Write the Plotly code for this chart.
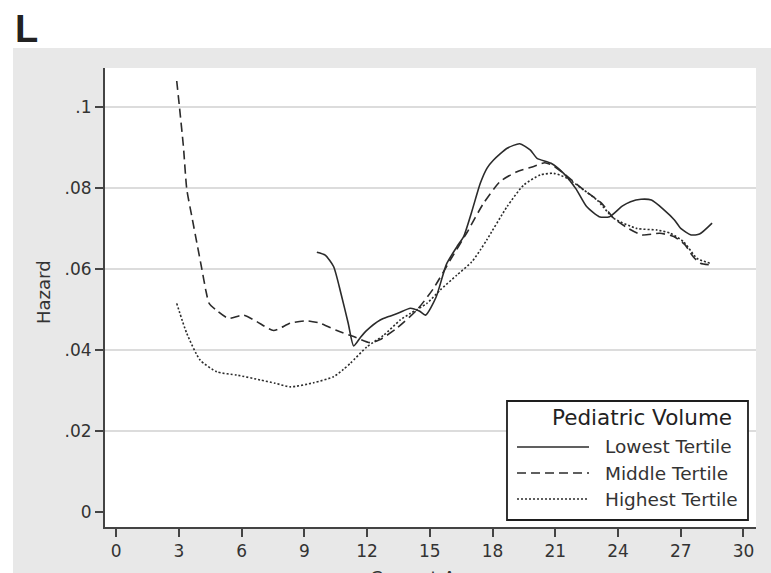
import plotly.graph_objects as go

# Smoothed hazard by current age, one curve per pediatric-volume tertile
lowest_age = [9.6, 10.0, 10.4, 10.75, 11.1, 11.36, 11.7, 12.0, 12.63, 13.0, 13.5, 14.07,
              14.5, 14.8, 15.3, 15.8, 16.3, 16.62, 17.0, 17.42, 17.74, 18.05, 18.7, 19.3,
              19.8, 20.13, 20.8, 21.4, 22.0, 22.5, 23.1, 23.6, 24.2, 24.6, 25.1, 25.6,
              26.2, 26.7, 27.0, 27.5, 27.9, 28.5]
lowest_hazard = [0.0641, 0.0634, 0.0606, 0.0540, 0.0466, 0.0410, 0.0432, 0.0449, 0.0474, 0.0482,
                 0.0491, 0.0503, 0.0496, 0.0486, 0.0530, 0.0612, 0.0655, 0.0680, 0.0740, 0.0812,
                 0.0849, 0.0869, 0.0898, 0.0909, 0.0894, 0.0873, 0.0861, 0.0836, 0.0797, 0.0754,
                 0.0729, 0.0729, 0.0755, 0.0766, 0.0772, 0.0770, 0.0746, 0.0721, 0.0700, 0.0684,
                 0.0686, 0.0713]

middle_age = [2.9, 3.03, 3.22, 3.38, 3.62, 3.86, 4.1, 4.3, 4.45, 4.82, 5.37, 6.09, 6.73,
              7.53, 8.33, 9.12, 9.76, 10.56, 11.36, 12.15, 12.6, 13.43, 14.39, 15.18, 15.98,
              16.78, 17.57, 18.37, 19.17, 19.97, 20.5, 20.9, 21.4, 22.36, 23.2, 23.8, 24.5,
              25.15, 26.0, 26.67, 27.2, 27.6, 27.94, 28.4]
middle_hazard = [0.1064, 0.1000, 0.0902, 0.0797, 0.0730, 0.0665, 0.0600, 0.0545, 0.0515, 0.0497,
                 0.0478, 0.0486, 0.0470, 0.0448, 0.0466, 0.0472, 0.0466, 0.0448, 0.0433, 0.0418,
                 0.0425, 0.0454, 0.0499, 0.0552, 0.0622, 0.0690, 0.0762, 0.0816, 0.0840, 0.0853,
                 0.0862, 0.0855, 0.0836, 0.0795, 0.0763, 0.0725, 0.0700, 0.0684, 0.0688, 0.0680,
                 0.0660, 0.0630, 0.0614, 0.0610]

highest_age = [2.9, 3.38, 4.02, 4.82, 5.78, 6.89, 7.6, 8.33, 9.44, 10.4, 10.87, 11.2, 12.0,
               12.79, 13.59, 14.07, 14.86, 15.5, 16.3, 17.0, 17.42, 17.73, 18.7, 19.49, 20.29,
               20.93, 21.56, 22.36, 23.0, 23.8, 24.9, 25.87, 26.5, 27.14, 27.78, 28.4]
highest_hazard = [0.0515, 0.0441, 0.0375, 0.0346, 0.0338, 0.0326, 0.0318, 0.0309, 0.0319, 0.0334,
                  0.0352, 0.0367, 0.0408, 0.0436, 0.0474, 0.0490, 0.0515, 0.0548, 0.0585, 0.0617,
                  0.0647, 0.0672, 0.0754, 0.0807, 0.0832, 0.0836, 0.0824, 0.0795, 0.0770, 0.0725,
                  0.0700, 0.0696, 0.0688, 0.0667, 0.0626, 0.0614]

x_ticks = [0, 3, 6, 9, 12, 15, 18, 21, 24, 27, 30]
y_ticks = [0, 0.02, 0.04, 0.06, 0.08, 0.1]
y_tick_text = ["0", ".02", ".04", ".06", ".08", ".1"]

series = [
    ("Lowest Tertile", lowest_age, lowest_hazard, "solid"),
    ("Middle Tertile", middle_age, middle_hazard, "9px,5px"),
    ("Highest Tertile", highest_age, highest_hazard, "2px,2px"),
]

LINE = "#2b2b2b"
FONT = "DejaVu Sans"

fig = go.Figure()
for name, xs, ys, dash in series:
    fig.add_trace(go.Scatter(x=xs, y=ys, mode="lines", name=name, showlegend=False,
                             line=dict(color=LINE, width=1.6, dash=dash, shape="spline",
                                       smoothing=0.6)))
# empty trace keeps the grid-only overlay axis alive
fig.add_trace(go.Scatter(x=[], y=[], yaxis="y2", showlegend=False, hoverinfo="skip"))

shapes = [
    # grey graph region and white plot region
    dict(type="rect", xref="paper", yref="paper", x0=-0.1413, x1=1.03, y0=-0.11, y1=1.0436,
         fillcolor="#e8e8e8", line=dict(width=0), layer="below"),
    dict(type="rect", xref="paper", yref="paper", x0=0, x1=1, y0=0, y1=1,
         fillcolor="white", line=dict(width=0), layer="below"),
    # legend box
    dict(type="rect", xref="paper", yref="paper", x0=0.6175, x1=0.9877, y0=0.0153, y1=0.2745,
         fillcolor="white", line=dict(color="#1e1e1e", width=1.8), layer="above"),
]
annotations = []
legend_rows = [0.1743, 0.1176, 0.0610]
for (name, _, _, dash), yrow in zip(series, legend_rows):
    shapes.append(dict(type="line", xref="paper", yref="paper", x0=0.6329, x1=0.7435,
                       y0=yrow, y1=yrow, line=dict(color=LINE, width=1.6, dash=dash),
                       layer="above"))
    annotations.append(dict(text=name, xref="paper", yref="paper", x=0.765, y=yrow,
                            xanchor="left", yanchor="middle", showarrow=False,
                            font=dict(family=FONT, size=18.5, color="#333")))
annotations += [
    dict(text="Pediatric Volume", xref="paper", yref="paper", x=0.9662, y=0.2375,
         xanchor="right", yanchor="middle", showarrow=False,
         font=dict(family=FONT, size=21.5, color="#222")),
    dict(text="Hazard", xref="paper", yref="paper", x=-0.0937, y=0.512, textangle=-90,
         xanchor="center", yanchor="middle", showarrow=False,
         font=dict(family=FONT, size=18, color="#333")),
    dict(text="Current Age", xref="paper", yref="paper", x=0.49, y=-0.109,
         xanchor="center", yanchor="middle", showarrow=False,
         font=dict(family=FONT, size=18, color="#333")),
    dict(text="<b>L</b>", xref="paper", yref="paper", x=-0.1413, y=1.085,
         xanchor="left", yanchor="middle", showarrow=False,
         font=dict(family="Liberation Sans", size=38, color="#222")),
]

fig.update_layout(
    width=771, height=573,
    margin=dict(l=105, r=15, t=68, b=46),
    paper_bgcolor="white", plot_bgcolor="white",
    showlegend=False,
    font=dict(family=FONT, size=17, color="#333"),
    xaxis=dict(range=[-0.53, 30.6], tickvals=x_ticks, showgrid=False, zeroline=False,
               showline=True, linecolor="#444", linewidth=2, ticks="outside", ticklen=8,
               tickwidth=1.5, tickcolor="#444", tickfont=dict(size=17, color="#333")),
    yaxis=dict(range=[-0.0037, 0.1096], tickvals=y_ticks, ticktext=y_tick_text,
               showgrid=False, zeroline=False, showline=True, linecolor="#444", linewidth=2,
               ticks="outside", ticklen=8, tickwidth=1.5, tickcolor="#444",
               tickfont=dict(size=17, color="#333")),
    yaxis2=dict(overlaying="y", matches="y", tickvals=y_ticks[1:], showgrid=True,
                gridcolor="#dcdcdc", gridwidth=1.5, showticklabels=False, ticks="",
                zeroline=False, showline=False),
    shapes=shapes,
    annotations=annotations,
)

fig.write_html("out.html")
